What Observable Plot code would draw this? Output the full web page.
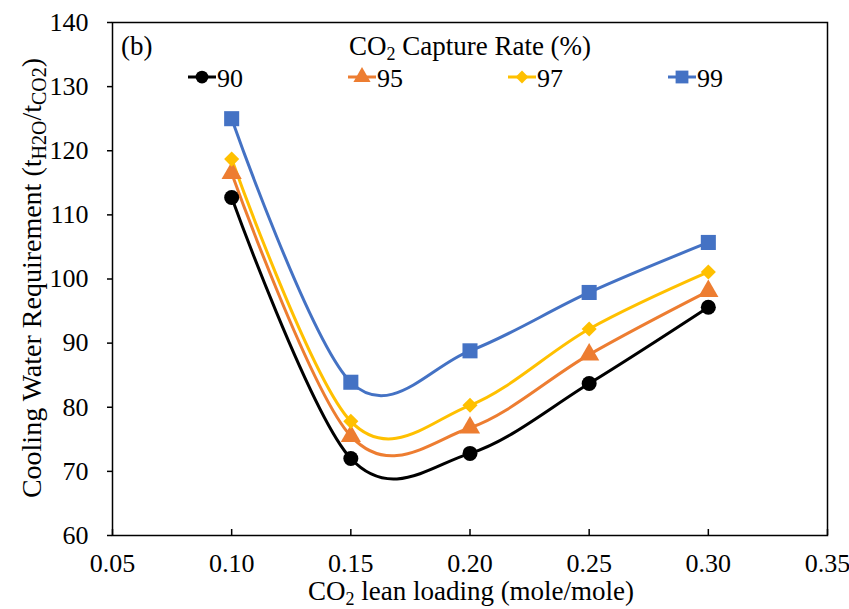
<!DOCTYPE html>
<html><head><meta charset="utf-8">
<script src="https://cdn.jsdelivr.net/npm/d3@7"></script>
<script src="https://cdn.jsdelivr.net/npm/@observablehq/plot@0.6"></script>
<style>body{margin:0;background:#fff} svg{display:block} svg text{font-family:'Liberation Serif','Times New Roman','DejaVu Serif',serif !important;font-variant-numeric:normal !important;}</style>
</head><body><div id="chart"></div>
<script>
const leanLoading = [0.10, 0.15, 0.20, 0.25, 0.30];
const rate90 = [112.7, 72.0, 72.8, 83.7, 95.6];
const rate95 = [116.5, 75.5, 76.8, 88.2, 98.1];
const rate97 = [118.7, 77.8, 80.3, 92.2, 101.1];
const rate99 = [125.0, 83.9, 88.8, 97.9, 105.7];
const seriesNames = ["90", "95", "97", "99"];
const seriesValues = [rate90, rate95, rate97, rate99];
const seriesColors = ["#000000", "#ED7D31", "#FFC000", "#4472C4"];
const seriesSymbols = ["circle", "triangle", "diamond2", "square"];
const markerR = [7.5, 7.5, 6.8, 8.5];
const xTicks = [0.05, 0.10, 0.15, 0.20, 0.25, 0.30, 0.35];
const yTicks = [60, 70, 80, 90, 100, 110, 120, 130, 140];

const FONT = "'Liberation Serif', 'Times New Roman', serif";
const rows = seriesNames.flatMap((s, i) => leanLoading.map((x, j) => ({series: s, x, y: seriesValues[i][j]})));

const lineMarks = seriesNames.map((s, i) => Plot.line(rows.filter(d => d.series === s), {
  x: "x", y: "y", stroke: seriesColors[i], strokeWidth: 3, curve: "cardinal", tension: 0
}));
const dotMarks = seriesNames.map((s, i) => Plot.dot(rows.filter(d => d.series === s), {
  x: "x", y: "y", fill: seriesColors[i], stroke: "none", symbol: seriesSymbols[i], r: markerR[i]
}));

const plot = Plot.plot({
  width: 849, height: 609,
  marginLeft: 112, marginRight: 22, marginTop: 22, marginBottom: 74,
  style: {fontFamily: FONT, fontSize: "26px", color: "black", background: "white"},
  x: {domain: [0.05, 0.35]},
  y: {domain: [60, 140]},
  marks: [
    Plot.axisX({ticks: xTicks, tickFormat: d3.format(".2f"), tickSize: -6, tickPadding: 24, label: null, strokeWidth: 1.5}),
    Plot.axisY({ticks: yTicks, tickSize: 5, tickPadding: 19, label: null, strokeWidth: 1.5}),
    ...lineMarks,
    ...dotMarks,
    Plot.frame({stroke: "black", strokeWidth: 1.5})
  ]
});
document.getElementById("chart").appendChild(plot);

// titles and legend (text with subscripts)
const svg = d3.select(plot);
const g = svg.append("g").attr("font-family", FONT).attr("font-size", 27).attr("fill", "black");

function richText(sel, parts, sub, shift) {
  let shifted = false;
  parts.forEach(([txt, isSub]) => {
    const t = sel.append("tspan").text(txt);
    if (isSub) t.attr("font-size", sub);
    if (isSub && !shifted) { t.attr("dy", shift); shifted = true; }
    else if (!isSub && shifted) { t.attr("dy", -shift); shifted = false; }
  });
}

// x-axis title
richText(g.append("text").attr("x", 471).attr("y", 600).attr("text-anchor", "middle"),
  [["CO"], ["2", true], [" lean loading (mole/mole)"]], 18, 5);
// y-axis title
richText(g.append("text").attr("transform", "translate(41,278) rotate(-90)").attr("text-anchor", "middle").attr("font-size", 28),
  [["Cooling Water Requirement (t"], ["H2O", true], ["/t"], ["CO2", true], [")"]], 20, 5);
// panel tag
g.append("text").attr("x", 121).attr("y", 55).attr("text-anchor", "start").text("(b)");
// legend title
richText(g.append("text").attr("x", 470).attr("y", 55).attr("text-anchor", "middle"),
  [["CO"], ["2", true], [" Capture Rate (%)"]], 18, 5);

const d3Symbols = {circle: d3.symbolCircle, triangle: d3.symbolTriangle, diamond2: d3.symbolDiamond2, square: d3.symbolSquare};
seriesNames.forEach((s, i) => {
  const x0 = 188 + i * 160, yc = 77;
  const item = g.append("g");
  item.append("line").attr("x1", x0).attr("x2", x0 + 28).attr("y1", yc).attr("y2", yc)
    .attr("stroke", seriesColors[i]).attr("stroke-width", 3);
  const r = markerR[i] * 0.85;
  item.append("path").attr("transform", `translate(${x0 + 14},${yc})`)
    .attr("d", d3.symbol(d3Symbols[seriesSymbols[i]], Math.PI * r * r)()).attr("fill", seriesColors[i]);
  item.append("text").attr("x", x0 + 29).attr("y", 87).attr("text-anchor", "start").attr("font-size", 26).text(s);
});
</script></body></html>
